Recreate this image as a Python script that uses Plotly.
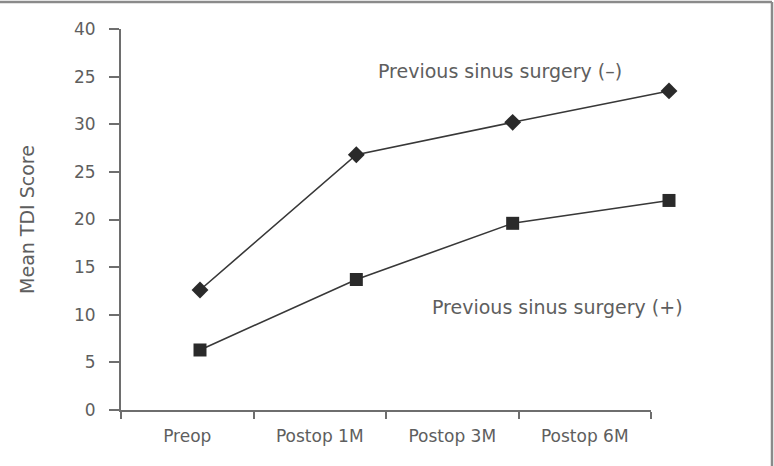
import plotly.graph_objects as go

categories = ["Preop", "Postop 1M", "Postop 3M", "Postop 6M"]
no_surgery = [12.6, 26.8, 30.2, 33.5]      # Previous sinus surgery (–)
with_surgery = [6.3, 13.7, 19.6, 22.0]     # Previous sinus surgery (+)
y_tickvals = [0, 5, 10, 15, 20, 25, 30, 35, 40]
y_ticktext = ["0", "5", "10", "15", "20", "25", "30", "25", "40"]
label_minus = "Previous sinus surgery (\u2013)"
label_plus = "Previous sinus surgery (+)"

W, H = 774, 466
L, R, T, B = 121, 74, 29, 56
pw = W - L - R
ph = H - T - B

idx = list(range(len(categories)))
font_family = "DejaVu Sans, Open Sans, sans-serif"
txt_col = "#5e5e5e"
line_col = "#383838"

fig = go.Figure()
fig.add_trace(go.Scatter(x=idx, y=no_surgery, mode="lines+markers",
                         line=dict(color=line_col, width=1.6),
                         marker=dict(symbol="diamond", size=13, color="#2a2a2a"),
                         cliponaxis=False, showlegend=False))
fig.add_trace(go.Scatter(x=idx, y=with_surgery, mode="lines+markers",
                         line=dict(color=line_col, width=1.6),
                         marker=dict(symbol="square", size=13, color="#2a2a2a"),
                         cliponaxis=False, showlegend=False))
# invisible trace to carry the category axis
fig.add_trace(go.Scatter(x=categories, y=[None] * len(categories), xaxis="x2",
                         mode="markers", showlegend=False, hoverinfo="skip"))

# pixel -> data mapping for the value axis: index 0 at px 200, index 3 at px 669
u = (669 - 200) / 3.0
x0 = -(200 - L) / u
x1 = 3 + (L + pw - 669) / u
cat_right = (651 - L) / pw

fig.update_layout(
    width=W, height=H,
    margin=dict(l=L, r=R, t=T, b=B),
    paper_bgcolor="white", plot_bgcolor="rgba(0,0,0,0)",
    font=dict(family=font_family, color=txt_col, size=15),
    xaxis=dict(domain=[0, 1], range=[x0, x1], visible=False, fixedrange=True),
    xaxis2=dict(domain=[0, cat_right], anchor="y", type="category",
                categoryorder="array", categoryarray=categories,
                range=[-0.5, len(categories) - 0.5],
                showline=True, linecolor="#6e6e6e", linewidth=2,
                ticks="outside", tickson="boundaries", ticklen=7,
                tickcolor="#6e6e6e", tickwidth=1.5,
                showgrid=False, zeroline=False,
                tickfont=dict(size=17, color=txt_col), ticklabelstandoff=10),
    yaxis=dict(range=[0, 40], tickvals=y_tickvals, ticktext=y_ticktext,
               showline=True, linecolor="#6e6e6e", linewidth=2,
               ticks="outside", ticklen=10, tickcolor="#6e6e6e", tickwidth=1.5,
               showgrid=False, zeroline=False,
               tickfont=dict(size=17, color=txt_col), ticklabelstandoff=10,
               title=dict(text="Mean TDI Score", font=dict(size=19, color=txt_col),
                          standoff=34)),
)

fig.add_annotation(x=1 + (501 - 357) / u, y=(410 - 71) / (ph / 40), xref="x", yref="y",
                   text=label_minus, showarrow=False,
                   font=dict(size=19, color=txt_col))
fig.add_annotation(x=1 + (558 - 357) / u, y=(410 - 307) / (ph / 40), xref="x", yref="y",
                   text=label_plus, showarrow=False,
                   font=dict(size=19, color=txt_col))

# outer frame (top and right edges visible in the reference)
ytop = (H - B - 2) / ph
xright = (772 - L) / pw
fig.add_shape(type="line", xref="paper", yref="paper", x0=-L / pw, x1=xright,
              y0=ytop, y1=ytop, line=dict(color="#8a8a8a", width=2.5))
fig.add_shape(type="line", xref="paper", yref="paper", x0=xright, x1=xright,
              y0=ytop, y1=-B / ph, line=dict(color="#8a8a8a", width=2.5))

fig.write_html("out.html")
